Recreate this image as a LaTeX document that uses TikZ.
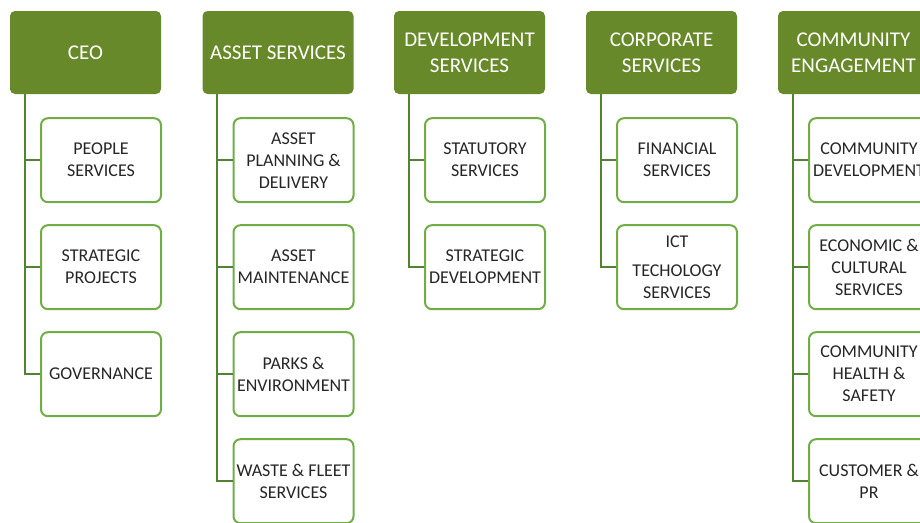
\documentclass[tikz,border=0pt]{standalone}
\usepackage{fontspec}
\setmainfont{Carlito}
\usetikzlibrary{positioning}
\definecolor{headgreen}{RGB}{104,137,42}
\definecolor{boxgreen}{RGB}{112,173,71}
\definecolor{linegreen}{RGB}{84,130,53}
\definecolor{txtgray}{RGB}{38,38,38}

\begin{document}
\begin{tikzpicture}[x=1pt, y=-1pt, node distance=21pt,
	   head/.style={fill=headgreen, rounded corners=5pt, text=white, align=center, inner sep=2pt,
	     minimum width=151pt, minimum height=83pt, font=\fontsize{21}{26}\selectfont},
	   unit/.style={draw=boxgreen, line width=2pt, rounded corners=7pt, fill=white, text=txtgray, align=center,
	     inner sep=1pt, minimum width=120pt, minimum height=84pt, font=\fontsize{18}{22}\selectfont},
	   conn/.style={draw=linegreen, line width=2pt}]
	  \useasboundingbox (0,0) rectangle (920,522);
	  \clip (0,0) rectangle (920,522);
	  % heads
	  \node[head] (ceo) at (85.5,52.5) {CEO};
	  \node[head] (asset) at (278,52.5) {ASSET SERVICES};
	  \node[head] (dev) at (469.5,52.5) {DEVELOPMENT\\ SERVICES};
	  \node[head] (corp) at (661.5,52.5) {CORPORATE\\ SERVICES};
	  \node[head] (comm) at (853.5,52.5) {COMMUNITY\\ ENGAGEMENT};
	  % units
	  \node[unit, below=23pt of ceo, xshift=15.5pt] (ceo1) {PEOPLE\\ SERVICES};
	  \node[unit, below=of ceo1] (ceo2) {STRATEGIC\\ PROJECTS};
	  \node[unit, below=of ceo2] (ceo3) {GOVERNANCE};
	  \node[unit, below=23pt of asset, xshift=15.5pt] (asset1) {ASSET\\ PLANNING \&\\ DELIVERY};
	  \node[unit, below=of asset1] (asset2) {ASSET\\ MAINTENANCE};
	  \node[unit, below=of asset2] (asset3) {PARKS \&\\ ENVIRONMENT};
	  \node[unit, below=of asset3] (asset4) {WASTE \& FLEET\\ SERVICES};
	  \node[unit, below=23pt of dev, xshift=15.5pt] (dev1) {STATUTORY\\ SERVICES};
	  \node[unit, below=of dev1] (dev2) {STRATEGIC\\ DEVELOPMENT};
	  \node[unit, below=23pt of corp, xshift=15.5pt] (corp1) {FINANCIAL\\ SERVICES};
	  \node[unit, below=of corp1] (corp2) {ICT\\[7pt] TECHOLOGY\\ SERVICES};
	  \node[unit, below=23pt of comm, xshift=15.5pt] (comm1) {COMMUNITY\\ DEVELOPMENT};
	  \node[unit, below=of comm1] (comm2) {ECONOMIC \&\\ CULTURAL\\ SERVICES};
	  \node[unit, below=of comm2] (comm3) {COMMUNITY\\ HEALTH \&\\ SAFETY};
	  \node[unit, below=of comm3] (comm4) {CUSTOMER \&\\ PR};
	  % links
	  \draw[conn] ([xshift=15pt]ceo.south west) |- (ceo1.west);
	  \draw[conn] ([xshift=15pt]ceo.south west) |- (ceo2.west);
	  \draw[conn] ([xshift=15pt]ceo.south west) |- (ceo3.west);
	  \draw[conn] ([xshift=15pt]asset.south west) |- (asset1.west);
	  \draw[conn] ([xshift=15pt]asset.south west) |- (asset2.west);
	  \draw[conn] ([xshift=15pt]asset.south west) |- (asset3.west);
	  \draw[conn] ([xshift=15pt]asset.south west) |- (asset4.west);
	  \draw[conn] ([xshift=15pt]dev.south west) |- (dev1.west);
	  \draw[conn] ([xshift=15pt]dev.south west) |- (dev2.west);
	  \draw[conn] ([xshift=15pt]corp.south west) |- (corp1.west);
	  \draw[conn] ([xshift=15pt]corp.south west) |- (corp2.west);
	  \draw[conn] ([xshift=15pt]comm.south west) |- (comm1.west);
	  \draw[conn] ([xshift=15pt]comm.south west) |- (comm2.west);
	  \draw[conn] ([xshift=15pt]comm.south west) |- (comm3.west);
	  \draw[conn] ([xshift=15pt]comm.south west) |- (comm4.west);
	\end{tikzpicture}
\end{document}
